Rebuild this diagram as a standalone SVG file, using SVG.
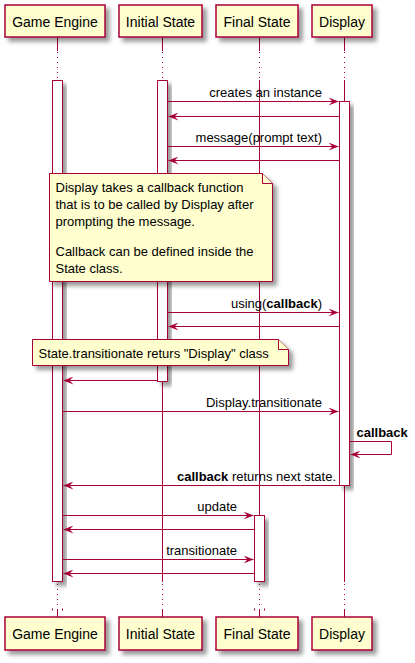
<svg xmlns="http://www.w3.org/2000/svg" width="415" height="663" viewBox="0 0 415 663">
<defs>
<filter id="sh" x="-20%" y="-20%" width="160%" height="160%">
<feGaussianBlur in="SourceAlpha" stdDeviation="2" result="b"/>
<feColorMatrix in="b" type="matrix" values="0 0 0 0 0  0 0 0 0 0  0 0 0 0 0  0 0 0 0.4 0" result="b2"/>
<feOffset in="b2" dx="4" dy="4" result="b3"/>
<feBlend in="SourceGraphic" in2="b3" mode="normal"/>
</filter>
<marker id="ah" viewBox="0 0 10 8" refX="10" refY="4" markerWidth="10" markerHeight="8" markerUnits="userSpaceOnUse" orient="auto">
<polygon points="0,0 10,4 0,8 4,4" fill="#A80036"/>
</marker>
<style>
.box{fill:#FEFECE;stroke:#A80036;stroke-width:1.5}
.act{fill:#FFFFFF;stroke:#A80036;stroke-width:1}
.life{stroke:#A80036;stroke-width:1;fill:none}
.dot{stroke:#A80036;stroke-width:1;stroke-dasharray:1,4;fill:none}
.msg{stroke:#A80036;stroke-width:1;fill:none;marker-end:url(#ah)}
.note{fill:#FEFECE;stroke:#A80036;stroke-width:1}
.pt{font-family:"Liberation Sans",Arial,sans-serif;font-size:14px;fill:#000;text-anchor:middle}
.t{font-family:"Liberation Sans",Arial,sans-serif;font-size:13px;fill:#000}
.e{text-anchor:end}
.b{font-weight:bold}
</style>
</defs>

<g id="lifelines">
<path class="life" d="M57.5,37 V51 M57.5,80 V582 M57.5,609 V617"/>
<path class="dot" d="M57.5,52 V80 M57.5,584 V609"/>
<path class="life" d="M162.5,37 V51 M162.5,80 V582 M162.5,609 V617"/>
<path class="dot" d="M162.5,52 V80 M162.5,584 V609"/>
<path class="life" d="M259.5,37 V51 M259.5,80 V582 M259.5,609 V617"/>
<path class="dot" d="M259.5,52 V80 M259.5,584 V609"/>
<path class="life" d="M344.5,37 V51 M344.5,80 V582 M344.5,609 V617"/>
<path class="dot" d="M344.5,52 V80 M344.5,584 V609"/>
<rect x="52" y="608.5" width="1" height="2" fill="#A80036"/>
<rect x="62" y="608.5" width="1" height="2" fill="#A80036"/>
<rect x="254" y="608.5" width="1" height="2" fill="#A80036"/>
<rect x="264" y="608.5" width="1" height="2" fill="#A80036"/>
</g>

<g id="activations">
<rect class="act" x="52.5" y="80.5" width="10" height="501" filter="url(#sh)"/>
<rect class="act" x="157.5" y="80.5" width="10" height="301" filter="url(#sh)"/>
<rect class="act" x="339.5" y="101.5" width="10" height="384" filter="url(#sh)"/>
<rect class="act" x="254.5" y="515.5" width="10" height="66" filter="url(#sh)"/>
</g>

<g id="p-game-engine">
<rect class="box" x="5" y="5" width="100" height="32" filter="url(#sh)"/>
<text class="pt" x="55" y="27">Game Engine</text>
<rect class="box" x="5" y="617" width="100" height="33" filter="url(#sh)"/>
<text class="pt" x="55" y="639">Game Engine</text>
</g>
<g id="p-initial-state">
<rect class="box" x="119" y="5" width="83" height="32" filter="url(#sh)"/>
<text class="pt" x="160.5" y="27">Initial State</text>
<rect class="box" x="119" y="617" width="83" height="33" filter="url(#sh)"/>
<text class="pt" x="160.5" y="639">Initial State</text>
</g>
<g id="p-final-state">
<rect class="box" x="216" y="5" width="82" height="32" filter="url(#sh)"/>
<text class="pt" x="257" y="27">Final State</text>
<rect class="box" x="216" y="617" width="82" height="33" filter="url(#sh)"/>
<text class="pt" x="257" y="639">Final State</text>
</g>
<g id="p-display">
<rect class="box" x="312" y="5" width="60" height="32" filter="url(#sh)"/>
<text class="pt" x="342" y="27">Display</text>
<rect class="box" x="312" y="617" width="60" height="33" filter="url(#sh)"/>
<text class="pt" x="342" y="639">Display</text>
</g>

<g id="note1">
<path class="note" d="M49.5,173.5 H262.5 L272.5,183.5 V281.5 H49.5 Z" filter="url(#sh)"/>
<path class="note" d="M262.5,173.5 V183.5 H272.5" fill="none"/>
<text class="t" x="55.5" y="192">Display takes a callback function</text>
<text class="t" x="55.5" y="208.5">that is to be called by Display after</text>
<text class="t" x="55.5" y="225.5">prompting the message.</text>
<text class="t" x="55.5" y="256">Callback can be defined inside the</text>
<text class="t" x="55.5" y="273">State class.</text>
</g>

<g id="note2">
<path class="note" d="M32.5,339.5 H278.5 L288.5,349.5 V365.5 H32.5 Z" filter="url(#sh)"/>
<path class="note" d="M278.5,339.5 V349.5 H288.5" fill="none"/>
<text class="t" x="38.5" y="358">State.transitionate returs "Display" class</text>
</g>

<g id="connectors">
<line class="msg" x1="167.5" y1="101.5" x2="338.5" y2="101.5"/>
<line class="msg" x1="339.5" y1="116.5" x2="168.5" y2="116.5"/>
<line class="msg" x1="167.5" y1="146.5" x2="338.5" y2="146.5"/>
<line class="msg" x1="339.5" y1="160.5" x2="168.5" y2="160.5"/>
<line class="msg" x1="167.5" y1="312.5" x2="338.5" y2="312.5"/>
<line class="msg" x1="339.5" y1="326.5" x2="168.5" y2="326.5"/>
<line class="msg" x1="157.5" y1="380.5" x2="63.5" y2="380.5"/>
<line class="msg" x1="62.5" y1="411.5" x2="338.5" y2="411.5"/>
<path class="msg" d="M349.5,441.5 H391.5 V454.5 H350.5"/>
<line class="msg" x1="339.5" y1="485.5" x2="63.5" y2="485.5"/>
<line class="msg" x1="62.5" y1="515.5" x2="253.5" y2="515.5"/>
<line class="msg" x1="254.5" y1="529.5" x2="63.5" y2="529.5"/>
<line class="msg" x1="62.5" y1="559.5" x2="253.5" y2="559.5"/>
<line class="msg" x1="254.5" y1="573.5" x2="63.5" y2="573.5"/>
</g>

<g id="labels">
<text class="t e" x="322" y="97">creates an instance</text>
<text class="t e" x="322" y="142">message(prompt text)</text>
<text class="t e" x="322" y="308">using(<tspan class="b">callback</tspan>)</text>
<text class="t e" x="322" y="407">Display.transitionate</text>
<text class="t b" x="356.5" y="437">callback</text>
<text class="t e" x="336" y="481"><tspan class="b">callback</tspan> returns next state.</text>
<text class="t e" x="237" y="511">update</text>
<text class="t e" x="237" y="555">transitionate</text>
</g>
</svg>
